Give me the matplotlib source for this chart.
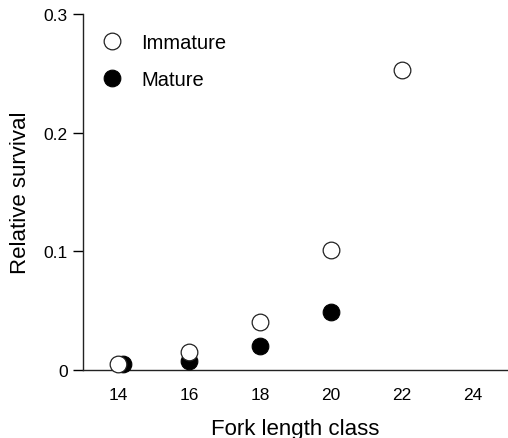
import matplotlib
matplotlib.use("Agg")
import matplotlib.pyplot as plt

# data
size_imm = [14, 16, 18, 20, 22]
surv_imm = [0.005, 0.015, 0.040, 0.101, 0.253]
size_mat = [14.14, 16, 18, 20]
surv_mat = [0.005, 0.0076, 0.020, 0.049]
xticks = [14, 16, 18, 20, 22, 24]
yticks = [0, 0.1, 0.2, 0.3]
ylabels = ["0", "0.1", "0.2", "0.3"]

plt.rcParams['font.family'] = ['Liberation Sans', 'DejaVu Sans']

fig = plt.figure(figsize=(5.08, 4.39), dpi=100)
ax = fig.add_axes([0.163, 0.155, 0.837, 0.811])

ax.plot(size_mat, surv_mat, 'o', ms=12, mfc='black', mec='black', mew=0.8,
        label='Mature', clip_on=False, zorder=3)
ax.plot(size_imm, surv_imm, 'o', ms=12, mfc='white', mec='#222222', mew=0.9,
        label='Immature', clip_on=False, zorder=4)

ax.set_xlim(13, 25)
ax.set_ylim(0, 0.3)
ax.set_xticks(xticks)
ax.set_yticks(yticks)
ax.set_yticklabels(ylabels)

for s in ['top', 'right']:
    ax.spines[s].set_visible(False)
for s in ['left', 'bottom']:
    ax.spines[s].set_linewidth(1.0)
    ax.spines[s].set_color('#222222')

ax.tick_params(axis='x', length=0, pad=12, labelsize=12.5)
ax.tick_params(axis='y', length=7, width=1.0, pad=4, labelsize=12.5, direction='out')

ax.set_xlabel('Fork length class', fontsize=16, labelpad=12)
ax.set_ylabel('Relative survival', fontsize=16, labelpad=9)

h, l = ax.get_legend_handles_labels()
ax.legend(h[::-1], l[::-1], loc='upper left', bbox_to_anchor=(0.003, 0.97),
          frameon=False, fontsize=14.5, labelspacing=0.9, handletextpad=0.45,
          borderaxespad=0)

fig.savefig('out.png', dpi=100, facecolor='white')
